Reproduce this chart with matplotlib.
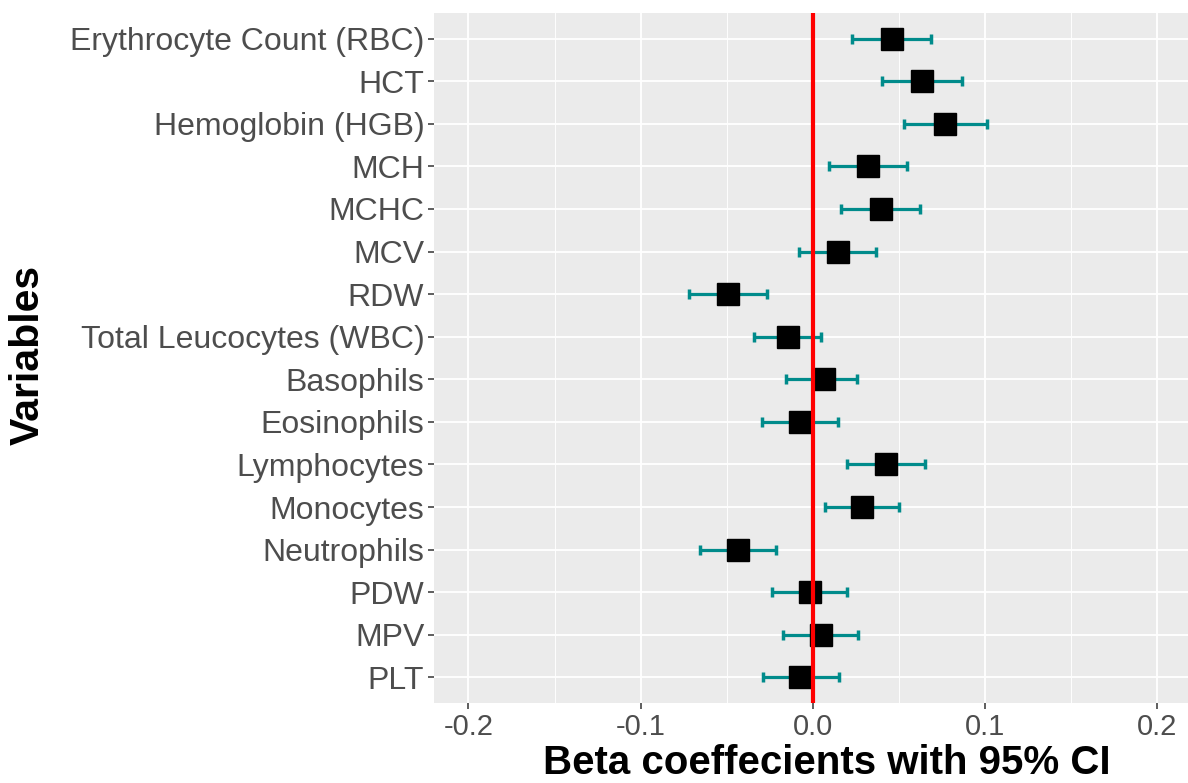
import matplotlib
matplotlib.use("Agg")
import matplotlib.pyplot as plt
from matplotlib.ticker import FixedLocator

plt.rcParams['font.family'] = ['Liberation Sans', 'DejaVu Sans']

variables = ["Erythrocyte Count (RBC)", "HCT", "Hemoglobin (HGB)", "MCH", "MCHC", "MCV",
             "RDW", "Total Leucocytes (WBC)", "Basophils", "Eosinophils", "Lymphocytes",
             "Monocytes", "Neutrophils", "PDW", "MPV", "PLT"]
beta = [0.0459, 0.0636, 0.0770, 0.0320, 0.0395, 0.0145,
        -0.0494, -0.0145, 0.0065, -0.0077, 0.0427,
        0.0285, -0.0432, -0.0016, 0.0045, -0.0072]
ci_low = [0.0229, 0.0403, 0.0529, 0.0091, 0.0165, -0.0081,
          -0.0721, -0.0343, -0.0157, -0.0297, 0.0200,
          0.0068, -0.0653, -0.0236, -0.0172, -0.0290]
ci_high = [0.0688, 0.0869, 0.1012, 0.0547, 0.0624, 0.0368,
           -0.0267, 0.0049, 0.0258, 0.0149, 0.0651,
           0.0502, -0.0211, 0.0200, 0.0262, 0.0153]
xticks = [-0.2, -0.1, 0.0, 0.1, 0.2]
xtick_labels = ['-0.2', '-0.1', '0.0', '0.1', '0.2']

n = len(variables)
ypos = list(range(n, 0, -1))  # first variable at the top

fig = plt.figure(figsize=(11.88, 7.83), dpi=100)
ax = fig.add_axes([0.3653, 0.1022, 0.6378, 0.8812])
ax.set_facecolor('#EBEBEB')
for s in ax.spines.values():
    s.set_visible(False)

# grid, ggplot-like
ax.xaxis.set_major_locator(FixedLocator(xticks))
ax.xaxis.set_minor_locator(FixedLocator([-0.15, -0.05, 0.05, 0.15]))
ax.set_yticks(ypos)
ax.set_yticklabels(variables)
ax.grid(which='major', color='white', linewidth=1.3)
ax.grid(which='minor', axis='x', color='white', linewidth=0.65)
ax.set_axisbelow(True)

xerr = [[b - lo for b, lo in zip(beta, ci_low)], [hi - b for b, hi in zip(beta, ci_high)]]
ax.errorbar(beta, ypos, xerr=xerr, fmt='none', ecolor='#008B8B', elinewidth=2.3,
            capsize=3.5, capthick=2.5, zorder=3)
ax.plot(beta, ypos, 's', color='black', markersize=15.5, zorder=4)
ax.axvline(0, color='#FF0000', linewidth=3, zorder=5)

ax.set_xlim(-0.22, 0.22)
ax.set_ylim(1 - 0.6, n + 0.6)

ax.set_xticklabels(xtick_labels)
ax.tick_params(axis='both', which='major', length=4, width=1.1, color='#333333',
               labelcolor='#4D4D4D', pad=3)
ax.tick_params(axis='x', which='major', labelsize=21)
ax.tick_params(axis='y', which='major', labelsize=23)
ax.tick_params(axis='x', which='minor', length=0)

ax.set_xlabel('Beta coeffecients with 95% CI', fontsize=29, fontweight='bold', color='black')
ax.set_ylabel('Variables', fontsize=29.5, fontweight='bold', color='black')
ax.xaxis.label.set_va('baseline')
ax.xaxis.set_label_coords(0.519, -0.1025)
ax.yaxis.label.set_va('center')
ax.yaxis.set_label_coords(-0.5365, 0.505)

fig.savefig('out.png', dpi=100)
